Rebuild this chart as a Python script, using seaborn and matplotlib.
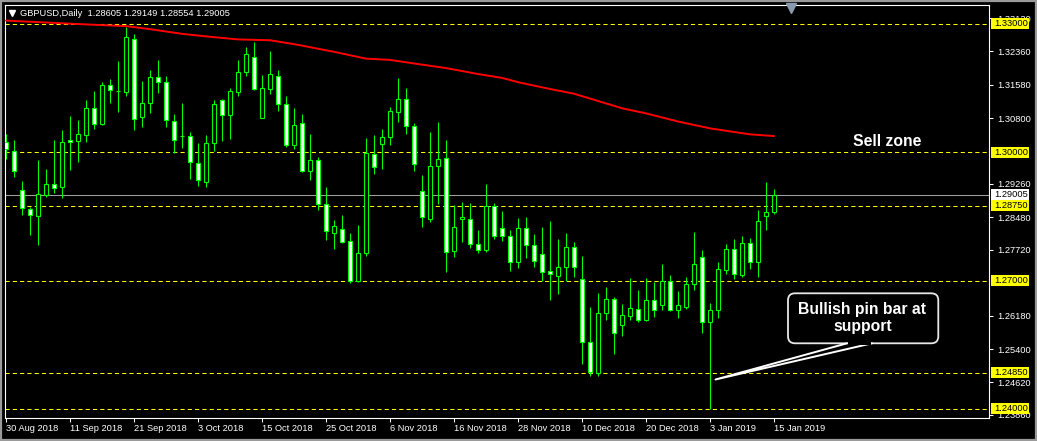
import numpy as np
import pandas as pd
import matplotlib
matplotlib.use("Agg")
import matplotlib.pyplot as plt
import seaborn as sns
from matplotlib.patches import FancyBboxPatch, Rectangle
from matplotlib.lines import Line2D
from matplotlib.transforms import IdentityTransform

# ---------------- data (GBPUSD daily, 30 Aug 2018 - 15 Jan 2019) ----------------
opens = [1.3023, 1.3004, 1.2911, 1.2867, 1.2852, 1.2901, 1.2925, 1.2920, 1.3028, 1.3027,
         1.3040, 1.3103, 1.3067, 1.3157, 1.3144, 1.3142, 1.3264, 1.3082, 1.3115, 1.3175,
         1.3164, 1.3073, 1.3037, 1.3037, 1.2976, 1.2931, 1.3021, 1.3122, 1.3087, 1.3140,
         1.3187, 1.3224, 1.3081, 1.3149, 1.3178, 1.3112, 1.3016, 1.3068, 1.2957, 1.2981,
         1.2879, 1.2812, 1.2820, 1.2792, 1.2700, 1.2764, 1.2996, 1.3020, 1.3036, 1.3095,
         1.3124, 1.3061, 1.2909, 1.2845, 1.2969, 1.2986, 1.2769, 1.2843, 1.2843, 1.2785,
         1.2772, 1.2874, 1.2822, 1.2804, 1.2743, 1.2822, 1.2783, 1.2762, 1.2722, 1.2712,
         1.2731, 1.2778, 1.2703, 1.2556, 1.2483, 1.2624, 1.2656, 1.2597, 1.2618, 1.2633,
         1.2609, 1.2654, 1.2644, 1.2699, 1.2632, 1.2639, 1.2693, 1.2755, 1.2603, 1.2631,
         1.2725, 1.2775, 1.2713, 1.2787, 1.2743, 1.2850, 1.28605]
highs = [1.3043, 1.3029, 1.2932, 1.2873, 1.2982, 1.2961, 1.3029, 1.3052, 1.3085, 1.3076,
         1.3122, 1.3143, 1.3164, 1.3171, 1.3214, 1.3292, 1.3277, 1.3167, 1.3192, 1.3216,
         1.3178, 1.3090, 1.3115, 1.3048, 1.3022, 1.3041, 1.3122, 1.3125, 1.3150, 1.3216,
         1.3246, 1.3258, 1.3181, 1.3237, 1.3192, 1.3132, 1.3103, 1.3090, 1.3043, 1.2988,
         1.2919, 1.2841, 1.2854, 1.2811, 1.2830, 1.3034, 1.3041, 1.3055, 1.3105, 1.3173,
         1.3150, 1.3068, 1.2947, 1.3048, 1.3071, 1.3029, 1.2877, 1.2883, 1.2882, 1.2818,
         1.2926, 1.2882, 1.2863, 1.2818, 1.2846, 1.2849, 1.2809, 1.2825, 1.2840, 1.2797,
         1.2811, 1.2790, 1.2758, 1.2639, 1.2671, 1.2685, 1.2662, 1.2645, 1.2707, 1.2678,
         1.2706, 1.2698, 1.2739, 1.2713, 1.2676, 1.2709, 1.2814, 1.2772, 1.2647, 1.2744,
         1.2786, 1.2797, 1.2804, 1.2800, 1.2865, 1.2931, 1.29149]
lows = [1.2984, 1.2943, 1.2854, 1.2807, 1.2783, 1.2895, 1.2905, 1.2894, 1.2959, 1.2978,
        1.3024, 1.3055, 1.3065, 1.3116, 1.3095, 1.3132, 1.3052, 1.3060, 1.3093, 1.3138,
        1.3060, 1.2998, 1.3011, 1.2938, 1.2922, 1.2920, 1.3002, 1.3027, 1.3032, 1.3132,
        1.3179, 1.3146, 1.3081, 1.3136, 1.3097, 1.3013, 1.3008, 1.2955, 1.2935, 1.2865,
        1.2795, 1.2774, 1.2789, 1.2694, 1.2698, 1.2758, 1.2949, 1.2962, 1.3017, 1.3072,
        1.3043, 1.2956, 1.2826, 1.2836, 1.2879, 1.2721, 1.2756, 1.2790, 1.2776, 1.2764,
        1.2766, 1.2797, 1.2793, 1.2723, 1.2730, 1.2754, 1.2733, 1.2699, 1.2655, 1.2669,
        1.2699, 1.2709, 1.2505, 1.2478, 1.2476, 1.2609, 1.2529, 1.2571, 1.2609, 1.2604,
        1.2606, 1.2616, 1.2632, 1.2630, 1.2613, 1.2633, 1.2678, 1.2578, 1.2400, 1.2613,
        1.2715, 1.2705, 1.2708, 1.2727, 1.2708, 1.2818, 1.28554]
closes = [1.3007, 1.2957, 1.2869, 1.2853, 1.2902, 1.2925, 1.2916, 1.3023, 1.3023, 1.3042,
          1.3103, 1.3067, 1.3157, 1.3145, 1.3143, 1.3269, 1.3079, 1.3115, 1.3175, 1.3164,
          1.3075, 1.3028, 1.3037, 1.2977, 1.2935, 1.3021, 1.3112, 1.3087, 1.3143, 1.3187,
          1.3229, 1.3149, 1.3150, 1.3182, 1.3112, 1.3016, 1.3065, 1.2957, 1.2981, 1.2879,
          1.2815, 1.2827, 1.2791, 1.2700, 1.2764, 1.2998, 1.2966, 1.3035, 1.3096, 1.3124,
          1.3061, 1.2972, 1.2848, 1.2967, 1.2984, 1.2768, 1.2825, 1.2848, 1.2785, 1.2772,
          1.2874, 1.2805, 1.2804, 1.2743, 1.2822, 1.2783, 1.2747, 1.2721, 1.2715, 1.2731,
          1.2778, 1.2733, 1.2557, 1.2486, 1.2624, 1.2656, 1.2578, 1.2619, 1.2635, 1.2609,
          1.2654, 1.2632, 1.2699, 1.2632, 1.2643, 1.2692, 1.2738, 1.2603, 1.2631, 1.2727,
          1.2773, 1.2715, 1.2787, 1.2743, 1.2839, 1.2860, 1.29005]

# moving average (red line), read at selected bars
ma_idx = [0, 10, 15, 18, 22, 25, 29, 33, 36, 41, 45, 48, 52, 55, 59, 62, 64, 68, 71, 74,
          77, 80, 84, 88, 93, 96]
ma_val = [1.3308, 1.3299, 1.3295, 1.3288, 1.3277, 1.3271, 1.3264, 1.3262, 1.3253, 1.3235,
          1.3219, 1.3216, 1.3205, 1.3197, 1.3183, 1.3174, 1.3164, 1.3148, 1.3137, 1.3120,
          1.3103, 1.3091, 1.3072, 1.3056, 1.3042, 1.3038]

date_labels = ["30 Aug 2018", "11 Sep 2018", "21 Sep 2018", "3 Oct 2018", "15 Oct 2018",
               "25 Oct 2018", "6 Nov 2018", "16 Nov 2018", "28 Nov 2018", "10 Dec 2018",
               "20 Dec 2018", "3 Jan 2019", "15 Jan 2019"]
date_step = 8

price_ticks = [1.33130, 1.32360, 1.31580, 1.30800, 1.29260, 1.28480, 1.27720,
               1.26180, 1.25400, 1.24620, 1.23860]
levels = [1.33000, 1.30000, 1.28750, 1.27000, 1.24850, 1.24000]
current_price = 1.29005
header = "GBPUSD,Daily  1.28605 1.29149 1.28554 1.29005"
sell_text = "Sell zone"
pin_text = "Bullish pin bar at\nsupport"

# ---------------- style ----------------
sns.set_theme(style="dark", rc={"axes.facecolor": "black", "figure.facecolor": "black"})
plt.rcParams["font.family"] = ["Liberation Sans", "DejaVu Sans"]

W, H = 1037, 441
fig = plt.figure(figsize=(W / 100, H / 100), dpi=100)
fig.patch.set_facecolor("black")
L, R, T, B = 4.5, 989.3, 4.7, 418.0
ax = fig.add_axes([L / W, 1 - B / H, (R - L) / W, (B - T) / H])
ax.set_facecolor("black")

df = pd.DataFrame({"open": opens, "high": highs, "low": lows, "close": closes})
df["idx"] = np.arange(len(df))
bull = df["close"] >= df["open"]
body_bottom = np.minimum(df["open"], df["close"])
body_h = np.abs(df["close"] - df["open"])

GREEN = "#00ff00"
# level lines and current price line
for lv in levels:
    ax.axhline(lv, color="#ffff00", lw=0.75, ls=(0, (4, 3)), zorder=1)
ax.axhline(current_price, color="#a0a0a4", lw=0.75, zorder=1)

# wicks and bodies
ax.vlines(df["idx"], df["low"], df["high"], color=GREEN, lw=0.8, zorder=2)
ax.bar(df["idx"], body_h, bottom=body_bottom, width=0.5,
       color=np.where(bull, "black", "white"), edgecolor=GREEN, linewidth=0.8, zorder=3)

# moving average
ma_df = pd.DataFrame({"idx": ma_idx, "ma": ma_val})
sns.lineplot(data=ma_df, x="idx", y="ma", ax=ax, color="#ff0000", linewidth=1.4, zorder=4)

ax.set_xlim(-0.19, 122.9)
ax.set_ylim(1.23789, 1.33451)
ax.grid(False)
ax.set_xlabel("")
ax.set_ylabel("")
for sp in ax.spines.values():
    sp.set_visible(True)
    sp.set_color("white")
    sp.set_linewidth(0.8)

# axes ticks
ax.yaxis.tick_right()
ax.set_yticks(price_ticks)
ax.set_yticklabels([f"{v:.5f}" for v in price_ticks])
ax.set_xticks(np.arange(len(date_labels)) * date_step)
ax.set_xticklabels(date_labels)
for lab in ax.get_xticklabels():
    lab.set_horizontalalignment("left")
ax.tick_params(axis="y", which="both", right=True, labelright=True, left=False, labelleft=False,
               colors="white", length=3, width=0.75, pad=2.5, labelsize=6.7, direction="out")
ax.tick_params(axis="x", which="both", bottom=True, labelbottom=True, colors="white",
               length=3, width=0.75, pad=1.5, labelsize=6.7, direction="out")

# ---------------- overlays in pixel space ----------------
fig.canvas.draw()
ID = IdentityTransform()


def ypix(price):
    return ax.transData.transform((0, price))[1]


for lv in levels:
    yd = ypix(lv)
    fig.add_artist(Rectangle((991, yd - 5.5), 37.5, 11, transform=ID, fc="#ffff00", ec="none", zorder=20))
    fig.text(994.5, yd, f"{lv:.5f}", transform=ID, color="black", fontsize=6.7,
             ha="left", va="center", zorder=21)
yd = ypix(current_price)
fig.add_artist(Rectangle((991, yd - 5.5), 37.5, 11, transform=ID, fc="white", ec="none", zorder=20))
fig.text(994.5, yd, f"{current_price:.5f}", transform=ID, color="black", fontsize=6.7,
         ha="left", va="center", zorder=21)

# header
fig.add_artist(Line2D([11.5], [H - 12.5], transform=ID, marker="v", color="white",
                      markersize=5, ls="none", zorder=20))
fig.text(20.5, H - 13.3, header, transform=ID, color="white", fontsize=6.7,
         ha="left", va="center", zorder=20)

# shift marker
fig.add_artist(Line2D([790.5], [H - 7.5], transform=ID, marker="v", color="#8a9aae",
                      markersize=6.5, ls="none", zorder=20))

# annotations
fig.text(887, H - 141.5, sell_text, transform=ID, color="white", fontsize=11.3,
         fontweight="bold", ha="center", va="center", zorder=20)

box = FancyBboxPatch((788, H - 343.3), 150.3, 50, boxstyle="round,pad=0,rounding_size=7",
                     transform=ID, fc="black", ec="#e8e8e8", lw=1.3, zorder=20)
fig.add_artist(box)
fig.add_artist(Line2D([847, 715.5, 872], [H - 343.3, H - 379.5, H - 343.3], transform=ID,
                      color="white", lw=1.4, zorder=21))
fig.add_artist(Rectangle((848, H - 345), 23, 3, transform=ID, fc="black", ec="none", zorder=21))
fig.text(862.5, H - 318, pin_text, transform=ID, color="white", fontsize=11.3,
         fontweight="bold", ha="center", va="center", linespacing=1.15, zorder=22)

# window frame
fig.add_artist(Rectangle((1, 1), W - 2, H - 2, transform=ID, fill=False, ec="#9a9a9a",
                         lw=1.6, zorder=30))

fig.savefig("out.png", dpi=100, facecolor="black")
